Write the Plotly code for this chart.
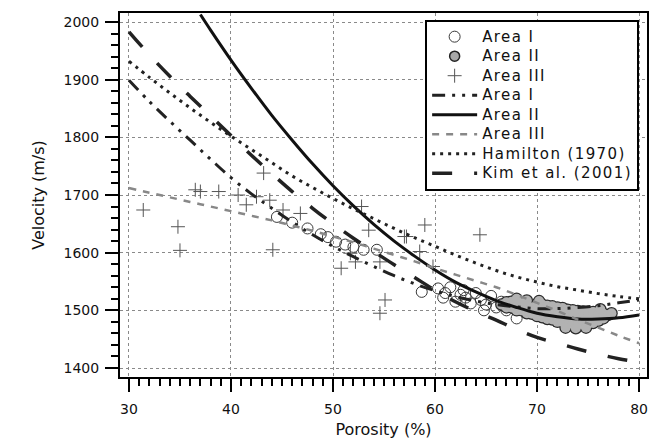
import plotly.graph_objects as go

# ---------------- data ----------------
curve_x = [30, 32, 34, 36, 38, 40, 42, 44, 46, 48, 50, 52, 54, 56, 58, 60,
           62, 64, 66, 68, 70, 72, 74, 76, 78, 80]
area1_fit = [1899, 1862, 1828, 1795, 1762, 1730, 1702, 1677, 1653, 1631, 1611,
             1593, 1576, 1560, 1546, 1534, 1524, 1516, 1510, 1506, 1503, 1503,
             1505, 1508, 1513, 1518]
area3_fit = [1712, 1704, 1696, 1688, 1680, 1672, 1664, 1656, 1647, 1638, 1628,
             1618, 1607, 1596, 1585, 1573, 1562, 1551, 1540, 1527, 1513, 1499,
             1484, 1470, 1456, 1443]
hamilton = [1932, 1904, 1877, 1851, 1826, 1802, 1779, 1756, 1733, 1713, 1694,
            1676, 1659, 1642, 1626, 1611, 1596, 1582, 1569, 1558, 1549, 1541,
            1535, 1529, 1524, 1520]
kim2001 = [1983, 1943, 1906, 1871, 1837, 1803, 1769, 1737, 1706, 1677, 1650,
           1625, 1602, 1579, 1557, 1535, 1515, 1498, 1483, 1467, 1453, 1443,
           1433, 1424, 1416, 1410]
area2_fit_x = [37, 38, 40, 42, 44, 46, 48, 50, 52, 54, 56, 58, 60, 62, 64, 66,
               68, 70, 72, 74, 76, 78, 80]
area2_fit = [2013, 1986, 1934, 1885, 1838, 1795, 1754, 1716, 1681, 1649, 1620,
             1594, 1570, 1549, 1532, 1517, 1505, 1495, 1489, 1485, 1485, 1487,
             1492]

area1_x = [44.5, 46.0, 47.5, 48.8, 49.5, 50.3, 51.2, 52.0, 53.0, 54.3, 58.7,
           60.3, 61.0, 61.5, 62.0, 62.5, 63.0, 63.5, 64.0, 64.5, 65.0, 65.5,
           66.0, 66.5, 67.0, 67.5, 68.0, 60.8, 62.8, 64.8]
area1_y = [1662, 1652, 1642, 1632, 1627, 1619, 1614, 1610, 1605, 1605, 1532,
           1538, 1530, 1540, 1515, 1527, 1522, 1512, 1530, 1518, 1510, 1525,
           1505, 1515, 1500, 1510, 1486, 1522, 1535, 1500]

area2_x = [66.5, 67.0, 67.0, 67.5, 67.5, 68.0, 68.0, 68.5, 68.5, 69.0, 69.0,
           69.5, 69.5, 70.0, 70.0, 70.0, 70.5, 70.5, 70.5, 71.0, 71.0, 71.0,
           71.5, 71.5, 71.5, 72.0, 72.0, 72.0, 72.5, 72.5, 72.5, 73.0, 73.0,
           73.0, 73.5, 73.5, 73.5, 74.0, 74.0, 74.0, 74.5, 74.5, 74.5, 75.0,
           75.0, 75.0, 75.5, 75.5, 75.5, 76.0, 76.0, 76.5, 76.5, 77.0, 77.3,
           68.0, 69.0, 70.2, 72.8, 73.8, 74.8, 76.2]
area2_y = [1510, 1505, 1514, 1505, 1515, 1500, 1512, 1500, 1512, 1495, 1508,
           1494, 1505, 1490, 1500, 1510, 1488, 1500, 1510, 1485, 1497, 1508,
           1484, 1495, 1507, 1480, 1492, 1505, 1480, 1492, 1504, 1477, 1489,
           1501, 1477, 1488, 1500, 1476, 1488, 1499, 1476, 1487, 1498, 1477,
           1488, 1497, 1478, 1488, 1497, 1482, 1493, 1486, 1494, 1492, 1495,
           1520, 1517, 1516, 1470, 1469, 1470, 1502]

area3_x = [31.4, 34.8, 35.0, 36.5, 37.0, 38.8, 40.7, 41.5, 42.5, 43.2, 43.8,
           45.1, 46.8, 44.1, 50.8, 51.7, 52.2, 54.6, 55.1, 54.6, 58.5, 59.8,
           57.0, 52.8, 53.5, 59.0, 64.4, 57.2]
area3_y = [1674, 1645, 1604, 1709, 1706, 1706, 1700, 1683, 1697, 1738, 1691,
           1674, 1668, 1605, 1573, 1599, 1584, 1584, 1518, 1495, 1602, 1576,
           1628, 1680, 1639, 1648, 1631, 1628]

x_ticks = [30, 40, 50, 60, 70, 80]
y_ticks = [1400, 1500, 1600, 1700, 1800, 1900, 2000]

FONT = "DejaVu Sans"


def leg(name):
    return ('<span style="font-size:15px;letter-spacing:1.4px">'
            + name + '</span>')


fig = go.Figure()

# ---- data points ----
fig.add_trace(go.Scatter(x=area1_x, y=area1_y, mode="markers", name=leg("Area I"),
                         legendrank=1,
                         marker=dict(symbol="circle-open", size=11,
                                     color="#3a3a3a", line=dict(width=1))))
fig.add_trace(go.Scatter(x=area2_x, y=area2_y, mode="markers", showlegend=False,
                         marker=dict(symbol="circle", size=12.5, color="#2a2a2a")))
fig.add_trace(go.Scatter(x=area2_x, y=area2_y, mode="markers", showlegend=False,
                         marker=dict(symbol="circle", size=10, color="#b2b2b2")))
fig.add_trace(go.Scatter(x=[None], y=[None], mode="markers", name=leg("Area II"),
                         legendrank=2,
                         marker=dict(symbol="circle", size=10, color="#a8a8a8",
                                     line=dict(width=1.5, color="#222"))))
fig.add_trace(go.Scatter(x=area3_x, y=area3_y, mode="markers", name=leg("Area III"),
                         legendrank=3,
                         marker=dict(symbol="cross-thin", size=10,
                                     line=dict(width=1, color="#555"))))

# ---- fitted curves ----
fig.add_trace(go.Scatter(x=curve_x, y=area1_fit, mode="lines", name=leg("Area I"),
                         legendrank=4, line_shape="spline",
                         line=dict(color="#222", width=3,
                                   dash="13px,7px,3px,7px,3px,7px")))
fig.add_trace(go.Scatter(x=area2_fit_x, y=area2_fit, mode="lines", name=leg("Area II"),
                         legendrank=5, line_shape="spline",
                         line=dict(color="#111", width=3)))
fig.add_trace(go.Scatter(x=curve_x, y=area3_fit, mode="lines", name=leg("Area III"),
                         legendrank=6, line_shape="spline",
                         line=dict(color="#888", width=2.5, dash="7px,7px")))
fig.add_trace(go.Scatter(x=curve_x, y=hamilton, mode="lines",
                         name=leg("Hamilton (1970)"),
                         legendrank=7, line_shape="spline",
                         line=dict(color="#222", width=3, dash="3px,5px")))
fig.add_trace(go.Scatter(x=curve_x, y=kim2001, mode="lines",
                         name=leg("Kim et al. (2001)"),
                         legendrank=8, line_shape="spline",
                         line=dict(color="#222", width=3.5, dash="20px,22px")))

axis_common = dict(
    showline=True, linewidth=2, linecolor="black", mirror=True,
    ticks="outside", tickwidth=2, tickcolor="black",
    showgrid=True, gridcolor="#8a8a8a", griddash="dot", gridwidth=1,
    zeroline=False, automargin=False,
    tickfont=dict(family=FONT, size=14, color="#111"),
)

fig.update_layout(
    width=643, height=438,
    margin=dict(l=112, r=4, t=5, b=69),
    paper_bgcolor="white", plot_bgcolor="white",
    font=dict(family=FONT, color="#111"),
    xaxis=dict(range=[29.12, 80.78], tickvals=x_ticks, ticklen=13,
               ticklabelstandoff=5,
               minor=dict(dtick=1, ticklen=7, tickwidth=2, tickcolor="black",
                          ticks="outside", showgrid=False),
               title=dict(text="Porosity (%)", font=dict(family=FONT, size=16),
                          standoff=8),
               **axis_common),
    yaxis=dict(range=[1384.4, 2015.6], tickvals=y_ticks, ticklen=13,
               ticklabelstandoff=3,
               minor=dict(dtick=20, ticklen=7, tickwidth=2, tickcolor="black",
                          ticks="outside", showgrid=False),
               title=dict(text="Velocity (m/s)", font=dict(family=FONT, size=16),
                          standoff=15),
               **axis_common),
    legend=dict(x=0.579, y=0.981, xanchor="left", yanchor="top",
                bgcolor="white", bordercolor="black", borderwidth=2,
                font=dict(family=FONT, size=12.7, color="#111"),
                itemwidth=45, tracegroupgap=0),
    showlegend=True,
)

fig.write_html("out.html")
